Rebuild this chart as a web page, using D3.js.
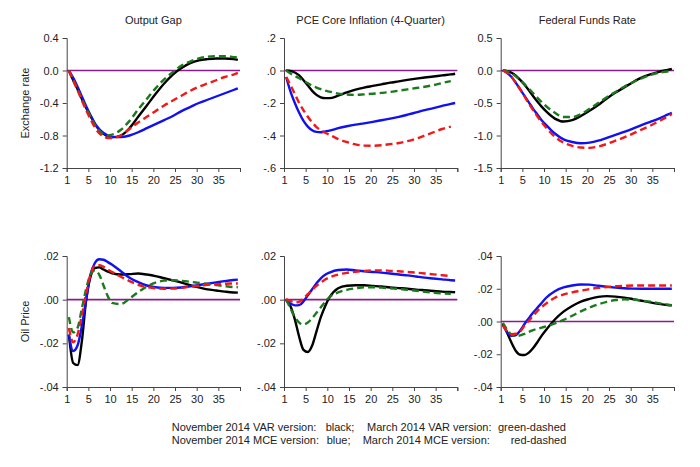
<!DOCTYPE html>
<html>
<head>
<meta charset="utf-8">
<title>Impulse responses</title>
<style>
    body { margin: 0; background: #fff; }
    text { font-family: Arial, "Liberation Sans", sans-serif; fill: #222; }
    .axis path, .axis line { stroke: #444; }
    .axis text { font-size: 11px; fill: #222; }
</style>
</head>
<body>
<svg width="700" height="467"></svg>
<script src="https://d3js.org/d3.v7.min.js"></script>
<script>
// quarters after the shock
const quarters = [1,2,3,4,5,6,7,8,9,10,11,13,15,17,19,21,23,25,27,29,31,33,35,37,39,40];

// exchange rate shock -> output gap
const exGapNovVar = [0,-0.12,-0.23,-0.35,-0.46,-0.56,-0.66,-0.73,-0.78,-0.81,-0.82,-0.80,-0.71,-0.57,-0.43,-0.29,-0.16,-0.05,0.03,0.09,0.125,0.14,0.147,0.147,0.14,0.13];
const exGapNovMce = [0,-0.09,-0.20,-0.32,-0.44,-0.55,-0.65,-0.72,-0.77,-0.80,-0.82,-0.82,-0.80,-0.76,-0.71,-0.66,-0.61,-0.56,-0.50,-0.45,-0.40,-0.36,-0.32,-0.28,-0.24,-0.22];
const exGapMarVar = [0,-0.12,-0.23,-0.35,-0.46,-0.57,-0.67,-0.74,-0.79,-0.80,-0.79,-0.73,-0.62,-0.48,-0.35,-0.22,-0.11,-0.02,0.06,0.11,0.15,0.17,0.175,0.175,0.165,0.16];
const exGapMarMce = [0,-0.12,-0.24,-0.37,-0.49,-0.60,-0.70,-0.77,-0.81,-0.83,-0.83,-0.80,-0.72,-0.64,-0.57,-0.50,-0.43,-0.37,-0.31,-0.25,-0.20,-0.16,-0.12,-0.08,-0.05,-0.03];

// exchange rate shock -> core PCE inflation
const exPceNovVar = [0,-0.003,-0.012,-0.03,-0.06,-0.093,-0.125,-0.15,-0.165,-0.17,-0.17,-0.155,-0.135,-0.118,-0.105,-0.095,-0.085,-0.075,-0.067,-0.058,-0.05,-0.043,-0.037,-0.03,-0.024,-0.02];
const exPceNovMce = [-0.04,-0.13,-0.20,-0.26,-0.31,-0.345,-0.368,-0.378,-0.38,-0.375,-0.37,-0.355,-0.343,-0.333,-0.325,-0.316,-0.306,-0.296,-0.285,-0.272,-0.258,-0.244,-0.232,-0.218,-0.205,-0.20];
const exPceMarVar = [0,-0.018,-0.033,-0.048,-0.063,-0.078,-0.093,-0.105,-0.115,-0.124,-0.13,-0.142,-0.148,-0.15,-0.147,-0.143,-0.138,-0.132,-0.124,-0.116,-0.108,-0.10,-0.09,-0.077,-0.065,null];
const exPceMarMce = [-0.04,-0.09,-0.145,-0.20,-0.245,-0.285,-0.32,-0.348,-0.368,-0.383,-0.395,-0.422,-0.44,-0.455,-0.462,-0.463,-0.46,-0.453,-0.446,-0.435,-0.42,-0.40,-0.38,-0.36,-0.345,null];

// exchange rate shock -> federal funds rate
const exFfrNovVar = [0,-0.01,-0.035,-0.08,-0.145,-0.22,-0.305,-0.395,-0.48,-0.56,-0.63,-0.74,-0.785,-0.765,-0.70,-0.62,-0.53,-0.43,-0.34,-0.26,-0.18,-0.11,-0.06,-0.02,0.01,0.025];
const exFfrNovMce = [0,-0.04,-0.10,-0.19,-0.29,-0.39,-0.49,-0.59,-0.68,-0.77,-0.84,-0.97,-1.06,-1.10,-1.12,-1.11,-1.08,-1.035,-0.99,-0.945,-0.895,-0.84,-0.79,-0.74,-0.68,-0.65];
const exFfrMarVar = [0,-0.015,-0.045,-0.09,-0.15,-0.21,-0.28,-0.35,-0.42,-0.49,-0.55,-0.65,-0.715,-0.715,-0.67,-0.59,-0.50,-0.41,-0.33,-0.25,-0.18,-0.12,-0.07,-0.035,-0.015,-0.01];
const exFfrMarMce = [0,-0.04,-0.10,-0.19,-0.29,-0.40,-0.51,-0.61,-0.71,-0.80,-0.88,-1.02,-1.11,-1.16,-1.185,-1.19,-1.17,-1.13,-1.08,-1.03,-0.97,-0.91,-0.85,-0.78,-0.71,-0.67];

// oil price shock -> output gap
const oilGapNovVar = [-0.016,-0.029,-0.030,-0.019,0.000,0.0105,0.0145,0.0148,0.0138,0.0128,0.0121,0.0115,0.0117,0.0120,0.0115,0.0108,0.0098,0.0088,0.0078,0.0066,0.0056,0.0047,0.0042,0.0037,0.0033,0.0032];
const oilGapNovMce = [-0.016,-0.0235,-0.021,-0.012,0.000,0.0115,0.0168,0.0185,0.0183,0.0172,0.0160,0.0130,0.0100,0.0080,0.0065,0.0057,0.0054,0.0054,0.0056,0.0061,0.0067,0.0073,0.0079,0.0085,0.0090,0.0092];
const oilGapMarVar = [-0.008,-0.015,-0.013,-0.004,0.005,0.0115,0.0135,0.0115,0.0065,0.0015,-0.0015,-0.002,0.0005,0.0035,0.0060,0.0078,0.0087,0.0089,0.0086,0.0082,0.0077,0.0072,0.0067,0.0062,0.0058,0.0057];
const oilGapMarMce = [-0.013,-0.0195,-0.016,-0.007,0.003,0.0115,0.0155,0.0158,0.0150,0.0138,0.0126,0.0105,0.0085,0.0068,0.0058,0.0052,0.0050,0.0051,0.0054,0.0059,0.0064,0.0068,0.0071,0.0073,0.0074,0.0074];

// oil price shock -> core PCE inflation
const oilPceNovVar = [0,-0.003,-0.009,-0.017,-0.023,-0.024,-0.021,-0.0145,-0.008,-0.003,0.001,0.0052,0.0064,0.0066,0.0066,0.0063,0.0060,0.0056,0.0053,0.0050,0.0046,0.0043,0.0040,0.0037,0.0035,0.0034];
const oilPceNovMce = [-0.0005,-0.0018,-0.0026,-0.0025,-0.0008,0.002,0.0048,0.0075,0.0098,0.0114,0.0124,0.0136,0.0138,0.0134,0.0130,0.0127,0.0124,0.0120,0.0115,0.0111,0.0106,0.0101,0.0097,0.0093,0.0089,0.0088];
const oilPceMarVar = [0,-0.004,-0.008,-0.0105,-0.0114,-0.0105,-0.0085,-0.006,-0.0035,-0.001,0.0012,0.0033,0.0045,0.0052,0.0057,0.0057,0.0055,0.0052,0.0049,0.0045,0.0041,0.0036,0.0032,0.0029,0.0027,null];
const oilPceMarMce = [0.0003,-0.0006,-0.0013,-0.001,0.0005,0.0025,0.0045,0.0063,0.0078,0.0092,0.0102,0.0115,0.0123,0.0128,0.0132,0.0134,0.0134,0.0132,0.0130,0.0127,0.0124,0.0120,0.0116,0.0112,0.0108,null];

// oil price shock -> federal funds rate
const oilFfrNovVar = [-0.0015,-0.007,-0.013,-0.018,-0.0203,-0.0205,-0.019,-0.0162,-0.0125,-0.0085,-0.005,0.0012,0.006,0.0095,0.0122,0.0138,0.0150,0.0155,0.0152,0.0146,0.0137,0.0127,0.0117,0.0108,0.0101,0.0099];
const oilFfrNovMce = [-0.002,-0.0065,-0.0088,-0.0083,-0.0055,-0.0015,0.002,0.0055,0.0085,0.0115,0.0145,0.0185,0.0208,0.0220,0.0226,0.0225,0.0218,0.0212,0.0207,0.0203,0.0201,0.0200,0.0200,0.0200,0.0200,0.0200];
const oilFfrMarVar = [-0.0008,-0.005,-0.008,-0.0088,-0.0085,-0.0075,-0.0063,-0.0053,-0.0045,-0.0037,-0.003,-0.0012,0.001,0.0035,0.0062,0.0085,0.0105,0.0120,0.0131,0.0135,0.0134,0.0128,0.0121,0.0112,0.0103,0.0099];
const oilFfrMarMce = [-0.0025,-0.006,-0.0077,-0.0075,-0.006,-0.0025,0.0005,0.0035,0.0065,0.009,0.011,0.0145,0.0165,0.0178,0.0188,0.0198,0.0205,0.0210,0.0215,0.0218,0.0220,0.0220,0.0220,0.0220,0.0220,0.0220];

const titles = ["Output Gap", "PCE Core Inflation (4-Quarter)", "Federal Funds Rate"];
const rowLabels = ["Exchange rate", "Oil Price"];
const xTickValues = [0, 5, 10, 15, 20, 25, 30, 35, 40];
const xTickLabels = ["1", "5", "10", "15", "20", "25", "30", "35", ""];

const legendLines = [
    ["November 2014 VAR version:", "black;", "March 2014 VAR version:", "green-dashed"],
    ["November 2014 MCE version:", "blue;", "March 2014 MCE version:", "red-dashed"]
];

const loc = d3.formatLocale({decimal: ".", thousands: ",", grouping: [3], currency: ["$", ""], minus: "-"});
const f1 = loc.format(".1f"), f2 = loc.format(".2f");
const noLead = s => s.replace(/^(-?)0\./, "$1.");

const panels = [
    {row: 0, col: 0, domain: [-1.2, 0.4], ticks: [-1.2, -0.8, -0.4, 0, 0.4], fmt: f1, series: [exGapNovVar, exGapNovMce, exGapMarVar, exGapMarMce]},
    {row: 0, col: 1, domain: [-0.6, 0.2], ticks: [-0.6, -0.4, -0.2, 0, 0.2], fmt: d => noLead(f1(d)), series: [exPceNovVar, exPceNovMce, exPceMarVar, exPceMarMce]},
    {row: 0, col: 2, domain: [-1.5, 0.5], ticks: [-1.5, -1.0, -0.5, 0, 0.5], fmt: f1, series: [exFfrNovVar, exFfrNovMce, exFfrMarVar, exFfrMarMce]},
    {row: 1, col: 0, domain: [-0.04, 0.02], ticks: [-0.04, -0.02, 0, 0.02], fmt: d => noLead(f2(d)), series: [oilGapNovVar, oilGapNovMce, oilGapMarVar, oilGapMarMce]},
    {row: 1, col: 1, domain: [-0.04, 0.02], ticks: [-0.04, -0.02, 0, 0.02], fmt: d => noLead(f2(d)), series: [oilPceNovVar, oilPceNovMce, oilPceMarVar, oilPceMarMce]},
    {row: 1, col: 2, domain: [-0.04, 0.04], ticks: [-0.04, -0.02, 0, 0.02, 0.04], fmt: d => noLead(f2(d)), series: [oilFfrNovVar, oilFfrNovMce, oilFfrMarVar, oilFfrMarMce]}
];

// black solid, blue solid, green dashed, red dashed
const styles = [
    {color: "#000000", dash: null},
    {color: "#1010f0", dash: null},
    {color: "#1b7a1b", dash: "7,4"},
    {color: "#f01818", dash: "7,4"}
];

const colLeft = [66.7, 284, 500.7], panelW = 173.3;
const rowTop = [38, 256], rowBottom = [168, 387];

const svg = d3.select("svg");

panels.forEach(p => {
    const x = d3.scaleLinear().domain([0, 40]).range([colLeft[p.col], colLeft[p.col] + panelW]);
    const y = d3.scaleLinear().domain(p.domain).range([rowBottom[p.row], rowTop[p.row]]);
    const g = svg.append("g");

    g.append("g").attr("class", "axis")
        .attr("transform", `translate(0,${rowBottom[p.row]})`)
        .call(d3.axisBottom(x).tickValues(xTickValues).tickSizeOuter(0).tickSize(4).tickPadding(4)
            .tickFormat((d, i) => xTickLabels[i]));

    g.append("g").attr("class", "axis")
        .attr("transform", `translate(${colLeft[p.col]},0)`)
        .call(d3.axisLeft(y).tickValues(p.ticks).tickSizeOuter(0).tickSize(4).tickPadding(4).tickFormat(p.fmt));

    g.append("line")
        .attr("x1", x(0)).attr("x2", x(40))
        .attr("y1", y(0)).attr("y2", y(0))
        .attr("stroke", "#8b1a8b").attr("stroke-width", 1.6);

    const line = d3.line()
        .defined(d => d[1] != null)
        .x(d => x(d[0] - 0.5))
        .y(d => y(d[1]))
        .curve(d3.curveMonotoneX);

    p.series.forEach((vals, i) => {
        g.append("path")
            .datum(quarters.map((q, k) => [q, vals[k]]))
            .attr("d", line)
            .attr("fill", "none")
            .attr("stroke", styles[i].color)
            .attr("stroke-width", 2.4)
            .attr("stroke-dasharray", styles[i].dash);
    });

    if (p.row === 0) {
        g.append("text")
            .attr("x", (x.range()[0] + x.range()[1]) / 2).attr("y", 24)
            .attr("text-anchor", "middle").attr("font-size", 11)
            .text(titles[p.col]);
    }
    if (p.col === 0) {
        const cy = (rowTop[p.row] + rowBottom[p.row]) / 2;
        g.append("text")
            .attr("transform", `translate(29,${cy}) rotate(-90)`)
            .attr("text-anchor", "middle").attr("font-size", 11)
            .text(rowLabels[p.row]);
    }
});

const legendX = [[171.7, 325.7, 367, 498], [171.7, 326.7, 362.7, 510.7]];
const legendY = [430.5, 444];
legendLines.forEach((parts, r) => {
    parts.forEach((t, c) => {
        svg.append("text")
            .attr("x", legendX[r][c]).attr("y", legendY[r])
            .attr("font-size", 11)
            .text(t);
    });
});
</script>
</body>
</html>
